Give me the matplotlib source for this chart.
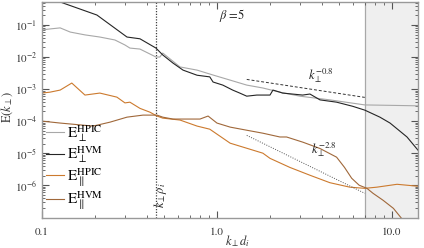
import numpy as np
import matplotlib
matplotlib.use("Agg")
import matplotlib.pyplot as plt
from matplotlib.ticker import FixedLocator, FuncFormatter, LogLocator, NullFormatter

# ---- data (k_perp d_i, spectral energy) ----
k_hvm_perp = [0.1, 0.127, 0.206, 0.306, 0.363, 0.448, 0.49, 0.56, 0.64, 0.77,
              0.91, 0.95, 1.08, 1.23, 1.35, 1.48, 1.69, 2.01, 2.09, 2.29,
              2.37, 3.09, 3.4, 3.88, 4.83, 5.97, 7.0, 8.54, 9.76, 12.2, 14.1]
e_hvm_perp = [0.87, 0.52, 0.204, 0.042, 0.037, 0.019, 0.0116, 0.0065, 0.0039, 0.0027,
              0.0024, 0.00166, 0.00133, 0.00093, 0.00075, 0.0006, 0.00065, 0.00065, 0.00093, 0.0008,
              0.00075, 0.00065, 0.0007, 0.00046, 0.00039, 0.00029, 0.00022, 0.000133, 8.7e-5, 3.2e-5, 1.24e-5]

k_hpic_perp = [0.1, 0.111, 0.127, 0.145, 0.176, 0.214, 0.261, 0.298, 0.318, 0.363,
               0.414, 0.448, 0.472, 0.49, 0.55, 0.615, 0.77, 0.95, 1.19, 1.48,
               1.83, 2.29, 2.98, 4.42, 7.0, 10.0, 14.1]
e_hpic_perp = [0.07, 0.075, 0.081, 0.06, 0.049, 0.042, 0.034, 0.0237, 0.019, 0.0177,
               0.0124, 0.01, 0.01, 0.0133, 0.008, 0.0049, 0.0039, 0.00274, 0.0019, 0.00133,
               0.00108, 0.0008, 0.0006, 0.00046, 0.00032, 0.00031, 0.00030]

k_hpic_par = [0.1, 0.111, 0.127, 0.148, 0.176, 0.214, 0.268, 0.298, 0.318, 0.363,
              0.414, 0.454, 0.49, 0.615, 0.77, 0.91, 1.19, 1.83, 2.01, 2.61,
              3.4, 4.42, 5.75, 7.0, 8.2, 10.7, 14.1]
e_hpic_par = [0.00075, 0.0008, 0.00093, 0.00154, 0.00065, 0.00075, 0.00056, 0.00037, 0.00039, 0.00025,
              0.00019, 0.000144, 0.000124, 0.000108, 7.0e-5, 5.6e-5, 2.05e-5, 1.0e-5, 6.9e-6, 3.6e-6,
              2.05e-6, 1.2e-6, 8.7e-7, 8.0e-7, 8.7e-7, 1.07e-6, 9.3e-7]

k_hvm_par = [0.1, 0.127, 0.196, 0.245, 0.306, 0.378, 0.454, 0.49, 0.56, 0.8,
             0.89, 1.0, 1.19, 1.48, 1.83, 2.29, 2.5, 3.1, 3.88, 4.83,
             5.36, 5.89, 6.5, 7.2, 7.8, 8.9, 10.2, 11.5]
e_hvm_par = [1.0e-4, 8.7e-5, 7.0e-5, 9.3e-5, 1.33e-4, 1.54e-4, 1.54e-4, 1.33e-4, 1.16e-4, 1.16e-4,
             1.44e-4, 8.7e-5, 6.5e-5, 5.2e-5, 4.2e-5, 3.2e-5, 3.2e-5, 2.2e-5, 1.4e-5, 7.5e-6,
             3.6e-6, 1.65e-6, 1.0e-6, 8.0e-7, 5.6e-7, 3.4e-7, 1.9e-7, 8.5e-8]

# reference power laws (end points)
fit08_k = [1.48, 7.0]
fit08_e = [2.0e-3, 5.5e-4]
fit28_k = [1.48, 7.0]
fit28_e = [3.6e-5, 5.6e-7]

k_rho = 0.447      # k_perp rho_i for beta = 5
k_shade = [7.0, 14.1]

plt.rcParams["font.family"] = ["STIXGeneral", "DejaVu Serif"]
plt.rcParams["mathtext.fontset"] = "stix"

fig = plt.figure(figsize=(4.24, 2.48), dpi=100)
ax = fig.add_axes([42 / 424, 30 / 248, 376 / 424, 216 / 248])

ax.axvspan(k_shade[0], k_shade[1], color="#efefef", zorder=0, lw=0)
ax.axvline(k_shade[0], color="#a8a8a8", lw=0.9, zorder=1)
ax.axvline(k_rho, color="#404040", ls=(0, (1, 1.2)), lw=0.9, zorder=1)

ax.plot(k_hpic_perp, e_hpic_perp, color="#a8a8a8", lw=0.8,
        label=r"$\mathrm{E}_{\perp}^{\mathrm{HPIC}}$")
ax.plot(k_hvm_perp, e_hvm_perp, color="#252525", lw=0.8,
        label=r"$\mathrm{E}_{\perp}^{\mathrm{HVM}}$")
ax.plot(k_hpic_par, e_hpic_par, color="#cc7a2e", lw=0.8,
        label=r"$\mathrm{E}_{\parallel}^{\mathrm{HPIC}}$")
ax.plot(k_hvm_par, e_hvm_par, color="#a0683a", lw=0.8,
        label=r"$\mathrm{E}_{\parallel}^{\mathrm{HVM}}$")

ax.plot(fit08_k, fit08_e, color="#333333", lw=0.7, ls=(0, (3, 2)))
ax.plot(fit28_k, fit28_e, color="#555555", lw=0.7, ls=(0, (1, 1.5)))

ax.set_xscale("log")
ax.set_yscale("log")
ax.set_xlim(0.1, 14.1)
ax.set_ylim(9.5e-8, 0.52)

ax.xaxis.set_major_locator(FixedLocator([0.1, 1.0, 10.0]))
ax.xaxis.set_major_formatter(FuncFormatter(lambda v, p: f"{v:.1f}"))
ax.xaxis.set_minor_locator(LogLocator(base=10, subs=np.arange(2, 10)))
ax.xaxis.set_minor_formatter(NullFormatter())
ax.yaxis.set_major_locator(FixedLocator([1e-6, 1e-5, 1e-4, 1e-3, 1e-2, 1e-1]))
ax.yaxis.set_major_formatter(FuncFormatter(lambda v, p: r"$10^{%d}$" % round(np.log10(v))))
ax.yaxis.set_minor_locator(LogLocator(base=10, subs=np.arange(2, 10)))
ax.yaxis.set_minor_formatter(NullFormatter())

ax.tick_params(which="both", direction="in", top=True, right=True,
               colors="#555555", labelcolor="#333333", labelsize=8)
ax.tick_params(which="major", length=5, width=0.8)
ax.tick_params(which="minor", length=2.5, width=0.6)
ax.tick_params(axis="x", pad=7)
for s in ax.spines.values():
    s.set_color("#999999")
    s.set_linewidth(1.0)

ax.text(1.22, 0.2, r"$\beta$ =5", fontsize=9, ha="center", va="center", color="#222222")
ax.text(3.9, 2.7e-3, r"$k_{\perp}^{-0.8}$", fontsize=9, ha="center", va="center", color="#222222")
ax.text(4.1, 1.3e-5, r"$k_{\perp}^{-2.8}$", fontsize=9, ha="center", va="center", color="#222222")
ax.text(0.478, 5e-7, r"$k_{\perp}\rho_i$", fontsize=9, rotation=90,
        ha="center", va="center", color="#222222")

fig.text(238 / 424, 1 - 241 / 248, r"$k_{\perp}d_i$", fontsize=9,
         ha="center", va="center", color="#333333")
fig.text(7 / 424, 1 - 107 / 248, r"$\mathrm{E}(k_{\perp})$", fontsize=9,
         rotation=90, ha="center", va="center", color="#333333")

ax.legend(loc="upper left", bbox_to_anchor=(0.01, 0.44), frameon=False,
          fontsize=11, handlelength=1.2, handletextpad=0.2, labelspacing=0.05,
          borderaxespad=0, borderpad=0)

fig.savefig("out.png", dpi=100)
